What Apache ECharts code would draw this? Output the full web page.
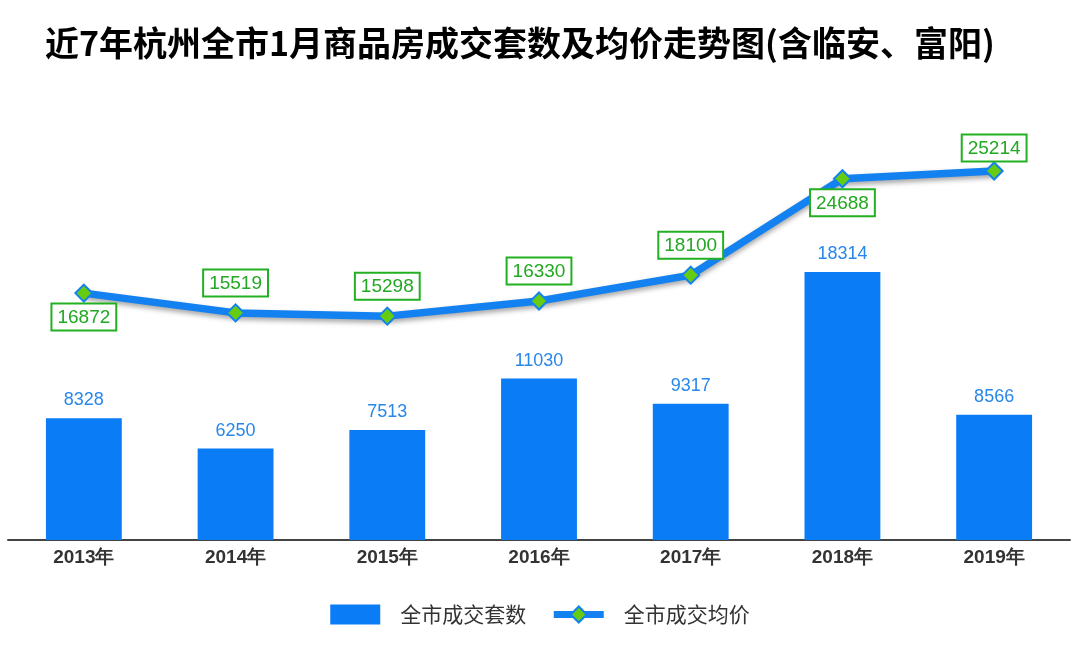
<!DOCTYPE html>
<html>
<head>
<meta charset="utf-8">
<script src="https://cdn.jsdelivr.net/npm/echarts@6/dist/echarts.min.js"></script>
<style>html,body{margin:0;padding:0;background:#fff}#c{width:1080px;height:656px}</style>
</head>
<body>
<div id="c"></div>
<script>
const titleText = '近7年杭州全市1月商品房成交套数及均价走势图(含临安、富阳)';
const categories = ['2013年','2014年','2015年','2016年','2017年','2018年','2019年'];
const dealCounts = [8328, 6250, 7513, 11030, 9317, 18314, 8566];
const avgPrices = [16872, 15519, 15298, 16330, 18100, 24688, 25214];
const priceLabelPos = ['bottom','top','top','top','top','bottom','top'];
const seriesNames = ['全市成交套数', '全市成交均价'];

const chart = echarts.init(document.getElementById('c'));
const priceData = avgPrices.map((v, i) => {
  const pos = priceLabelPos[i];
  return { value: v, label: { position: pos, distance: pos === 'bottom' ? 2 : (i === 6 ? 1 : 8) } };
});
chart.setOption({
  backgroundColor: '#fff',
  title: {
    text: titleText,
    left: 40, top: 21,
    textStyle: { fontFamily: 'Noto Sans CJK SC', fontWeight: 'bold', fontSize: 34, color: '#000' }
  },
  legend: {
    bottom: 26, left: 'center',
    itemWidth: 50, itemHeight: 20, itemGap: 24,
    textStyle: { fontFamily: 'Noto Sans CJK SC', fontSize: 21, color: '#333', padding: [0, 0, 0, 15] },
    data: [
      { name: seriesNames[0], icon: 'rect' },
      { name: seriesNames[1], lineStyle: { width: 7 } }
    ]
  },
  grid: { left: 8, right: 10, top: 101, bottom: 116, containLabel: false },
  xAxis: {
    type: 'category', data: categories,
    axisLine: { lineStyle: { color: '#444', width: 2 } },
    axisTick: { show: false },
    axisLabel: { fontFamily: 'Liberation Sans', fontWeight: 'bold', fontSize: 19, color: '#333', margin: 8 }
  },
  yAxis: { type: 'value', min: 0, max: 30000, show: false, splitLine: { show: false } },
  series: [
    {
      name: seriesNames[0], type: 'bar', data: dealCounts, barWidth: '50%',
      itemStyle: { color: '#0a7cf5' },
      label: { show: true, position: 'top', distance: 9, fontFamily: 'Liberation Sans', fontSize: 18, color: '#2787ea' }
    },
    {
      name: seriesNames[1], type: 'line', data: priceData,
      symbol: 'diamond', symbolSize: 17,
      lineStyle: { color: '#1481f0', width: 7.5, shadowColor: 'rgba(0,0,0,0.35)', shadowBlur: 5, shadowOffsetY: 3 },
      itemStyle: { color: '#66cc11', borderColor: '#1481f0', borderWidth: 2 },
      label: {
        show: true, fontFamily: 'Liberation Sans', fontSize: 19, color: '#22a822',
        borderColor: '#22b022', borderWidth: 2, backgroundColor: '#fff', padding: [4, 5, 2, 5]
      },
      z: 3
    }
  ]
});
</script>
</body>
</html>
